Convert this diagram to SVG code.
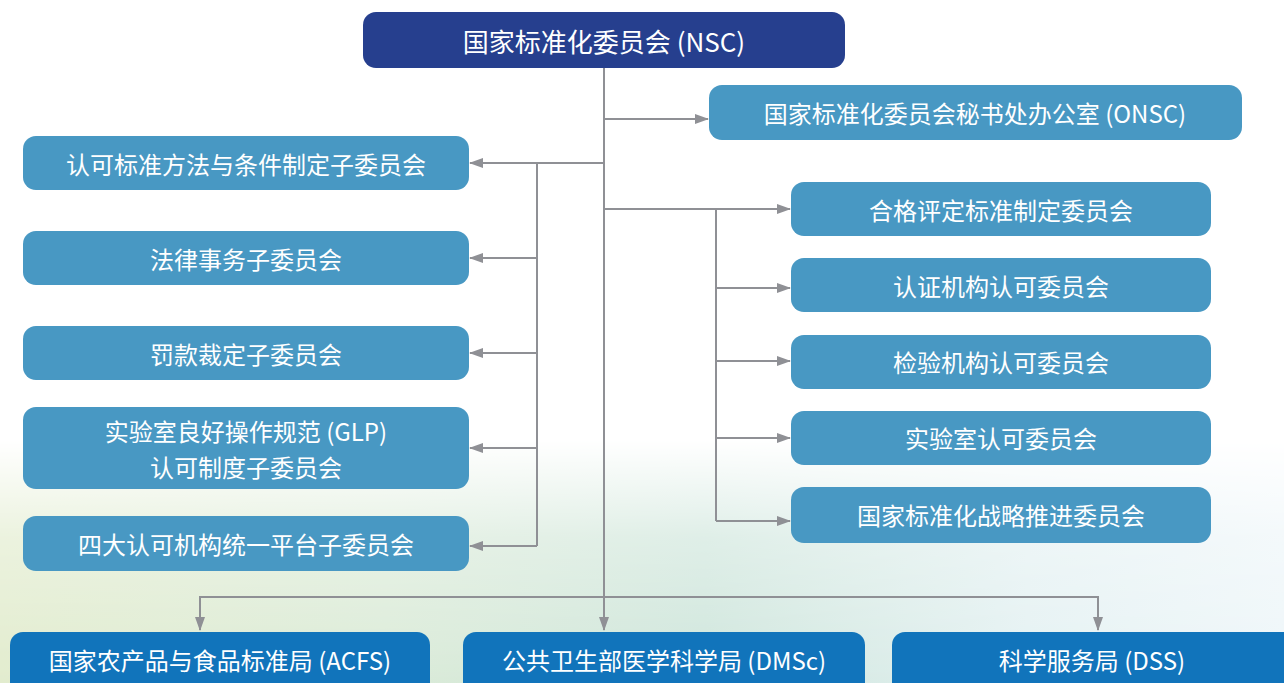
<svg xmlns="http://www.w3.org/2000/svg" width="1284" height="683" viewBox="0 0 1284 683">
<defs>
<style>
.t{font-family:"Noto Sans CJK SC","Noto Sans",sans-serif;font-size:24px;fill:#ffffff;text-anchor:middle;dominant-baseline:central}
.big{font-size:26px}
.mid{fill:#4898c3}
.dark{fill:#263f8e}
.bot{fill:#1174bb}
.c{fill:none;stroke:#8f9095;stroke-width:2}
</style>
<marker id="ah" viewBox="0 0 14 10" refX="13" refY="5" markerWidth="14" markerHeight="10" markerUnits="userSpaceOnUse" orient="auto">
<path d="M0,0 L14,5 L0,10 Z" fill="#8f9095"/>
</marker>
<linearGradient id="bgH" x1="0" y1="0" x2="1" y2="0">
<stop offset="0" stop-color="#e2ecce"/>
<stop offset="0.3" stop-color="#dbebd8"/>
<stop offset="0.55" stop-color="#cfe6dc"/>
<stop offset="0.8" stop-color="#e4f1f2"/>
<stop offset="1" stop-color="#eef6f9"/>
</linearGradient>
<linearGradient id="bgV" x1="0" y1="0" x2="0" y2="1">
<stop offset="0" stop-color="#000"/>
<stop offset="0.4" stop-color="#aaa"/>
<stop offset="1" stop-color="#fff"/>
</linearGradient>
<mask id="m">
<rect x="0" y="440" width="1284" height="243" fill="url(#bgV)"/>
</mask>
</defs>
<rect width="1284" height="683" fill="#ffffff"/>
<rect x="0" y="440" width="1284" height="243" fill="url(#bgH)" mask="url(#m)"/>

<g id="connectors">
<path class="c" d="M604,68 V630" marker-end="url(#ah)"/>
<path class="c" d="M604,119 H708" marker-end="url(#ah)"/>
<path class="c" d="M604,163 H470" marker-end="url(#ah)"/>
<path class="c" d="M537,163 V546"/>
<path class="c" d="M537,258 H470" marker-end="url(#ah)"/>
<path class="c" d="M537,353 H470" marker-end="url(#ah)"/>
<path class="c" d="M537,448 H470" marker-end="url(#ah)"/>
<path class="c" d="M537,546 H470" marker-end="url(#ah)"/>
<path class="c" d="M604,209 H790" marker-end="url(#ah)"/>
<path class="c" d="M716,209 V521"/>
<path class="c" d="M716,288 H790" marker-end="url(#ah)"/>
<path class="c" d="M716,361 H790" marker-end="url(#ah)"/>
<path class="c" d="M716,438 H790" marker-end="url(#ah)"/>
<path class="c" d="M716,521 H790" marker-end="url(#ah)"/>
<path class="c" d="M200,630 V597 H1098 V630" marker-end="url(#ah)"/>
<path class="c" d="M200,597 V630" marker-end="url(#ah)"/>
</g>

<g id="nsc"><rect class="dark" x="363" y="12" width="482" height="56" rx="13"/><text class="t big" x="604" y="40">国家标准化委员会 (NSC)</text></g>
<g id="onsc"><rect class="mid" x="709" y="85" width="533" height="55" rx="13"/><text class="t" x="975" y="112">国家标准化委员会秘书处办公室 (ONSC)</text></g>

<g id="l1"><rect class="mid" x="23" y="136" width="446" height="54" rx="13"/><text class="t" x="246" y="163">认可标准方法与条件制定子委员会</text></g>
<g id="l2"><rect class="mid" x="23" y="231" width="446" height="54" rx="13"/><text class="t" x="246" y="258">法律事务子委员会</text></g>
<g id="l3"><rect class="mid" x="23" y="326" width="446" height="54" rx="13"/><text class="t" x="246" y="353">罚款裁定子委员会</text></g>
<g id="l4"><rect class="mid" x="23" y="407" width="446" height="82" rx="13"/><text class="t" x="246" y="430">实验室良好操作规范 (GLP)</text><text class="t" x="246" y="466">认可制度子委员会</text></g>
<g id="l5"><rect class="mid" x="23" y="516" width="446" height="55" rx="13"/><text class="t" x="246" y="543">四大认可机构统一平台子委员会</text></g>

<g id="r1"><rect class="mid" x="791" y="182" width="420" height="54" rx="13"/><text class="t" x="1001" y="209">合格评定标准制定委员会</text></g>
<g id="r2"><rect class="mid" x="791" y="258" width="420" height="54" rx="13"/><text class="t" x="1001" y="285">认证机构认可委员会</text></g>
<g id="r3"><rect class="mid" x="791" y="335" width="420" height="54" rx="13"/><text class="t" x="1001" y="361">检验机构认可委员会</text></g>
<g id="r4"><rect class="mid" x="791" y="411" width="420" height="54" rx="13"/><text class="t" x="1001" y="437">实验室认可委员会</text></g>
<g id="r5"><rect class="mid" x="791" y="487" width="420" height="56" rx="13"/><text class="t" x="1001" y="514">国家标准化战略推进委员会</text></g>

<g id="acfs"><rect class="bot" x="10" y="632" width="420" height="70" rx="13"/><text class="t" x="220" y="659">国家农产品与食品标准局 (ACFS)</text></g>
<g id="dmsc"><rect class="bot" x="463" y="632" width="402" height="70" rx="13"/><text class="t" x="664" y="659">公共卫生部医学科学局 (DMSc)</text></g>
<g id="dss"><rect class="bot" x="892" y="632" width="410" height="70" rx="13"/><text class="t" x="1092" y="659">科学服务局 (DSS)</text></g>
</svg>
